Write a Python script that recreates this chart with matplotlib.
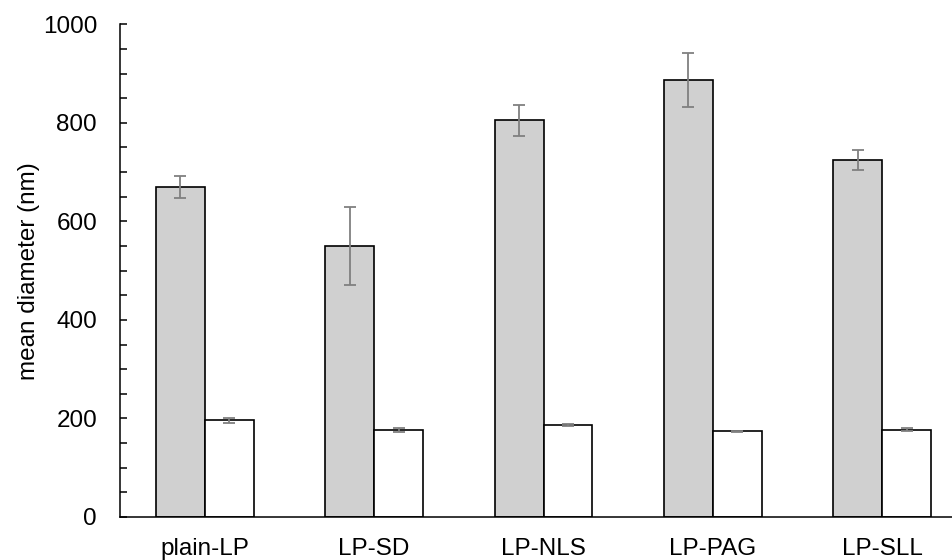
import matplotlib
matplotlib.use("Agg")
import matplotlib.pyplot as plt
import numpy as np
from matplotlib.ticker import MultipleLocator

categories = ["plain-LP", "LP-SD", "LP-NLS", "LP-PAG", "LP-SLL"]
gray_vals = [670, 550, 805, 887, 725]
gray_err = [22, 80, 31, 54, 20]
white_vals = [196, 177, 186, 174, 177]
white_err = [5, 4, 2, 1, 3]

plt.rcParams["font.family"] = ["Liberation Sans", "DejaVu Sans"]
FS = 17.5

fig = plt.figure(figsize=(9.53, 5.6), dpi=100)
ax = fig.add_axes([0.1259, 0.0768, 0.8741, 0.8798])

x = np.arange(len(categories))
w = 0.289
ekw = dict(ecolor="#808080", elinewidth=1.3, capsize=4, capthick=1.3)
ax.bar(x - w / 2, gray_vals, w, color="#d0d0d0", edgecolor="black", linewidth=1.2,
       yerr=gray_err, error_kw=ekw, zorder=2)
ax.bar(x + w / 2, white_vals, w, color="white", edgecolor="black", linewidth=1.2,
       yerr=white_err, error_kw=ekw, zorder=2)

ax.set_xlim(-0.5, 4.417)
ax.set_ylim(0, 1000)
ax.set_xticks(x)
ax.set_xticklabels(categories, fontsize=FS)
ax.tick_params(axis="x", length=0, pad=15)
ax.yaxis.set_major_locator(MultipleLocator(200))
ax.yaxis.set_minor_locator(MultipleLocator(50))
ax.tick_params(axis="y", which="both", direction="in", length=5, width=1.1, labelsize=FS, pad=16.5)
ax.set_ylabel("mean diameter (nm)", fontsize=FS, labelpad=2)

for s in ["top", "right"]:
    ax.spines[s].set_visible(False)
for s in ["left", "bottom"]:
    ax.spines[s].set_linewidth(1.1)

fig.savefig("out.png", dpi=100)
